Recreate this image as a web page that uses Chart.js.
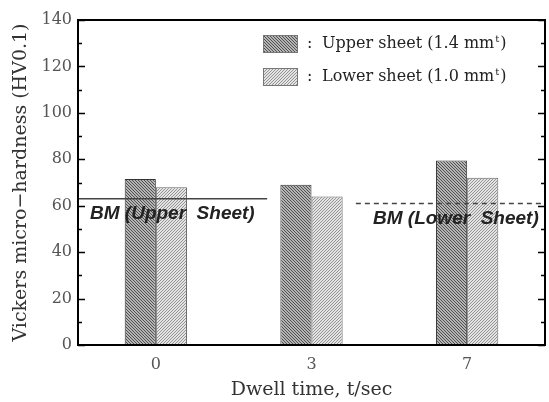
<!DOCTYPE html>
<html>
<head>
<meta charset="utf-8">
<script src="https://cdn.jsdelivr.net/npm/chart.js@4.4.1/dist/chart.umd.min.js"></script>
<style>
  html, body { margin: 0; padding: 0; background: #fff; }
  #wrap { width: 549px; height: 402px; }
</style>
</head>
<body>
<div id="wrap"><canvas id="myChart" width="549" height="402"></canvas></div>
<script>
// data
const dwellTimes = ["0", "3", "7"];
const upperSheet = [71.5, 69, 79.5];
const lowerSheet = [68, 64, 72];
const bmUpper = 63;
const bmLower = 61;
const yTicks = [0, 20, 40, 60, 80, 100, 120, 140];

const serif = "'DejaVu Serif', 'Liberation Serif', serif";

// hatch fill for the bars
function hatch(bg, fg, size, back) {
  const c = document.createElement("canvas");
  c.width = size; c.height = size;
  const g = c.getContext("2d");
  g.fillStyle = bg;
  g.fillRect(0, 0, size, size);
  g.strokeStyle = fg;
  g.lineWidth = 1;
  g.beginPath();
  if (back) {
    g.moveTo(-1, -1); g.lineTo(size + 1, size + 1);
    g.moveTo(-1, size - 1); g.lineTo(1, size + 1);
    g.moveTo(size - 1, -1); g.lineTo(size + 1, 1);
  } else {
    g.moveTo(-1, size + 1); g.lineTo(size + 1, -1);
    g.moveTo(-1, 1); g.lineTo(1, -1);
    g.moveTo(size - 1, size + 1); g.lineTo(size + 1, size - 1);
  }
  g.stroke();
  return g.createPattern(c, "repeat");
}
const upperFill = hatch("#b4b4b4", "#505050", 3, true);
const lowerFill = hatch("#e4e4e4", "#939393", 3, false);

const framePlugin = {
  id: "frame",
  afterDatasetsDraw(chart) {
    const ctx = chart.ctx;
    const a = chart.chartArea;
    const y = chart.scales.y;
    ctx.save();
    // BM lines
    const yu = y.getPixelForValue(bmUpper);
    const yl = y.getPixelForValue(bmLower);
    ctx.strokeStyle = "#444";
    ctx.lineWidth = 1.5;
    ctx.beginPath();
    ctx.moveTo(a.left, yu);
    ctx.lineTo(a.left + (a.right - a.left) * 0.405, yu);
    ctx.stroke();
    ctx.setLineDash([5, 4]);
    ctx.beginPath();
    ctx.moveTo(a.left + (a.right - a.left) * 0.595, yl);
    ctx.lineTo(a.right, yl);
    ctx.stroke();
    ctx.setLineDash([]);
    ctx.fillStyle = "#222";
    ctx.font = "italic bold 19px 'Liberation Sans', Arial, sans-serif";
    ctx.textBaseline = "middle";
    ctx.textAlign = "left";
    ctx.fillText("BM (Upper  Sheet)", a.left + 12, yu + 15);
    ctx.fillText("BM (Lower  Sheet)", a.left + 295, yl + 15);

    // frame and inward ticks
    ctx.strokeStyle = "#000";
    ctx.lineWidth = 2;
    ctx.strokeRect(a.left, a.top, a.right - a.left, a.bottom - a.top);
    ctx.lineWidth = 1.5;
    ctx.beginPath();
    for (let v = 0; v <= 140; v += 10) {
      const p = Math.round(y.getPixelForValue(v)) + 0.5;
      const len = v % 20 === 0 ? 7 : 4;
      ctx.moveTo(a.left, p); ctx.lineTo(a.left + len, p);
      ctx.moveTo(a.right, p); ctx.lineTo(a.right - len, p);
    }
    ctx.stroke();

    // legend
    const items = [
      { fill: upperFill, text: "Upper sheet (1.4 mm", y: 44 },
      { fill: lowerFill, text: "Lower sheet (1.0 mm", y: 77 }
    ];
    items.forEach(it => {
      ctx.fillStyle = it.fill;
      ctx.fillRect(263, it.y - 9, 35, 18);
      ctx.strokeStyle = "#777";
      ctx.lineWidth = 1;
      ctx.strokeRect(263.5, it.y - 8.5, 34, 17);
      ctx.fillStyle = "#222";
      ctx.font = "16px " + serif;
      ctx.fillText(":", 307, it.y);
      ctx.fillText(it.text, 322, it.y);
      let w = ctx.measureText(it.text).width;
      ctx.font = "10px " + serif;
      ctx.fillText("t", 322 + w + 1, it.y - 5);
      w += ctx.measureText("t").width + 2;
      ctx.font = "16px " + serif;
      ctx.fillText(")", 322 + w, it.y);
    });
    ctx.restore();
  }
};

new Chart("myChart", {
  type: "bar",
  data: {
    labels: dwellTimes,
    datasets: [{
      label: "Upper sheet (1.4 mmt)",
      data: upperSheet,
      backgroundColor: upperFill,
      borderColor: "#333",
      borderWidth: 1
    }, {
      label: "Lower sheet (1.0 mmt)",
      data: lowerSheet,
      backgroundColor: lowerFill,
      borderColor: "#666",
      borderWidth: 1
    }]
  },
  options: {
    responsive: false,
    animation: false,
    layout: { padding: { top: 20, right: 4, left: 0, bottom: 0 } },
    plugins: {
      legend: { display: false },
      tooltip: { enabled: false }
    },
    datasets: { bar: { categoryPercentage: 0.4, barPercentage: 1.0 } },
    scales: {
      x: {
        grid: { display: false, drawTicks: false },
        border: { display: false },
        ticks: { color: "#555", font: { family: serif, size: 16 }, padding: 10 },
        title: {
          display: true, text: "Dwell time, t/sec", color: "#333",
          font: { family: serif, size: 19 }, padding: { top: 0, bottom: 1 }
        },
        afterFit(s) { s.height = 57; }
      },
      y: {
        min: 0, max: 140,
        grid: { display: false, drawTicks: false },
        border: { display: false },
        ticks: {
          stepSize: 20, color: "#555", padding: 6,
          font: { family: serif, size: 16 },
          callback: (v) => yTicks.includes(v) ? String(v) : ""
        },
        title: {
          display: true, text: "Vickers micro\u2212hardness (HV0.1)", color: "#333",
          font: { family: serif, size: 19 }, padding: { top: 10, bottom: 0 }
        },
        afterFit(s) { s.width = 78; }
      }
    }
  },
  plugins: [framePlugin]
});
</script>
</body>
</html>
